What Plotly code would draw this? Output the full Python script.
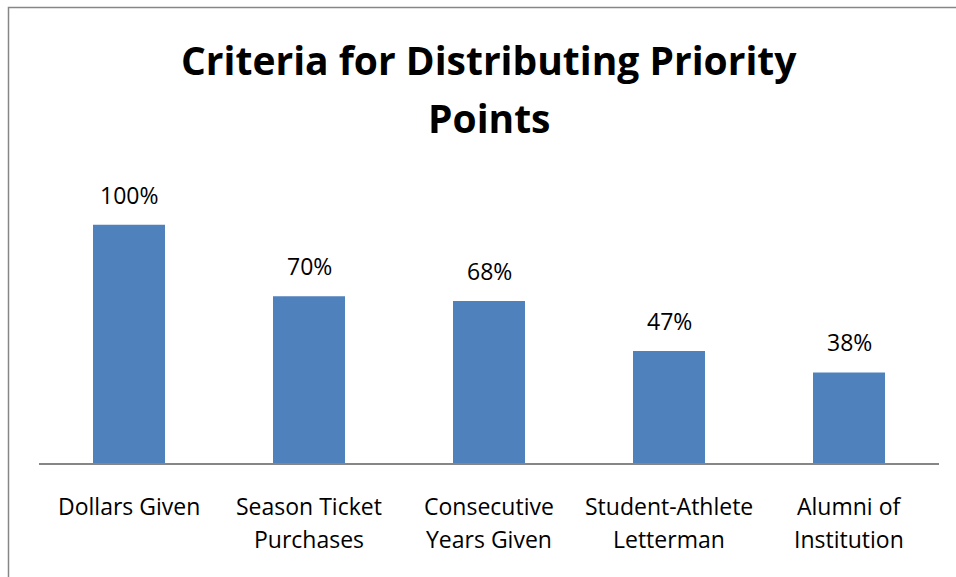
import plotly.graph_objects as go

categories = ["Dollars Given", "Season Ticket<br>Purchases", "Consecutive<br>Years Given",
              "Student-Athlete<br>Letterman", "Alumni of<br>Institution"]
values = [1.00, 0.70, 0.68, 0.47, 0.38]
value_labels = ["100%", "70%", "68%", "47%", "38%"]
title_lines = ["Criteria for Distributing Priority", "Points"]

W, H = 956, 577
L, R, T, B = 39, 17, 177, 114
pw, ph = W - L - R, H - T - B

def px_to_paper(x, y):
    return (x - L) / pw, (H - B - y) / ph

FONT = "Open Sans"

fig = go.Figure()
fig.add_trace(go.Bar(
    x=list(range(len(categories))), y=values,
    marker=dict(color="#4F81BD", line=dict(width=0)),
    width=0.4, hoverinfo="skip",
))

# value labels above the bars
for i, (v, lab) in enumerate(zip(values, value_labels)):
    fig.add_annotation(x=i, y=v, text=lab, showarrow=False, yanchor="bottom",
                       yshift=12, font=dict(family=FONT, size=23, color="#000000"))

# category labels, one annotation per line for even spacing
for i, cat in enumerate(categories):
    for j, line in enumerate(cat.split("<br>")):
        _, yp = px_to_paper(0, 506 + 33 * j)
        fig.add_annotation(x=i, xref="x", y=yp, yref="paper", text=line, showarrow=False,
                           yanchor="middle", font=dict(family=FONT, size=23, color="#000000"))

# two-line bold title
for j, line in enumerate(title_lines):
    xp, yp = px_to_paper(489, 59 + 58 * j)
    fig.add_annotation(x=xp, xref="paper", y=yp, yref="paper", text="<b>%s</b>" % line,
                       showarrow=False, xanchor="center", yanchor="middle",
                       font=dict(family=FONT, size=39, color="#000000"))

x0, y0 = px_to_paper(8.5, 7.5)
x1, y1 = px_to_paper(962, 582)
fig.add_shape(type="rect", xref="paper", yref="paper", x0=x0, y0=y1, x1=x1, y1=y0,
              line=dict(color="#868686", width=1.5), fillcolor="rgba(0,0,0,0)", layer="below")

fig.update_layout(
    width=W, height=H,
    margin=dict(l=L, r=R, t=T, b=B),
    paper_bgcolor="white", plot_bgcolor="white",
    showlegend=False,
    xaxis=dict(range=[-0.5, 4.5], showticklabels=False, showline=True,
               linecolor="#868686", linewidth=1.5,
               ticks="", showgrid=False, zeroline=False),
    yaxis=dict(range=[0, 1.2], visible=False, showgrid=False, zeroline=False),
)

fig.write_html("out.html")
